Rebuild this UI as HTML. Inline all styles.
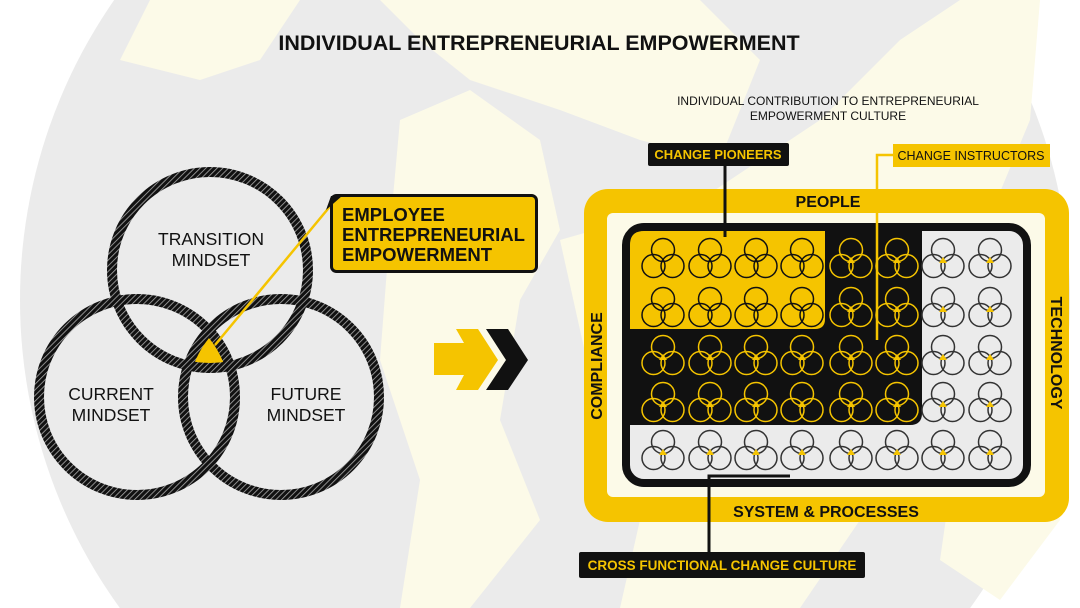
<!DOCTYPE html>
<html><head><meta charset="utf-8"><style>
html,body{margin:0;padding:0;background:#fff;width:1080px;height:608px;overflow:hidden;}
svg{display:block;font-family:"Liberation Sans",Arial,sans-serif;}
</style></head><body>
<svg width="1080" height="608" viewBox="0 0 1080 608" xmlns="http://www.w3.org/2000/svg">
<defs>
<pattern id="hatch" patternUnits="userSpaceOnUse" width="4" height="4" patternTransform="rotate(45)">
<rect width="4" height="4" fill="#111"/>
<rect x="0" y="0" width="0.8" height="4" fill="#aaa"/>
</pattern>
<g id="mv">
<circle cx="0" cy="-8" r="11.5" fill="none" stroke="currentColor" stroke-width="1.5"/>
<circle cx="-9.5" cy="8" r="11.5" fill="none" stroke="currentColor" stroke-width="1.5"/>
<circle cx="9.5" cy="8" r="11.5" fill="none" stroke="currentColor" stroke-width="1.5"/>
</g>
<g id="mvt">
<use href="#mv"/>
<polygon points="0,-1 -4,5 4,5" fill="#f5c400"/>
</g>
<clipPath id="cL"><circle cx="137" cy="397" r="98"/></clipPath>
<clipPath id="cR"><circle cx="281" cy="397" r="98"/></clipPath>
</defs>

<rect width="1080" height="608" fill="#fff"/>
<circle cx="545" cy="300" r="525" fill="#ebebeb"/>
<g fill="#fcfae8">
<polygon points="380,0 700,0 760,60 720,160 640,140 560,110 470,80 420,40"/>
<polygon points="400,120 470,90 540,140 560,230 520,300 500,420 540,520 470,608 400,608 420,480 380,360 390,230"/>
<polygon points="560,240 700,200 820,120 900,40 960,0 1040,0 1030,120 980,240 940,330 900,420 860,520 800,608 620,608 640,520 600,420 580,330"/>
<polygon points="150,0 300,0 260,60 200,80 120,60"/>
<polygon points="960,420 1040,380 1060,520 1000,600 940,560"/>
</g>

<text x="539" y="50" text-anchor="middle" font-size="21.5" font-weight="bold" fill="#111">INDIVIDUAL ENTREPRENEURIAL EMPOWERMENT</text>
<text x="828" y="105" text-anchor="middle" font-size="12" fill="#111">INDIVIDUAL CONTRIBUTION TO ENTREPRENEURIAL</text>
<text x="828" y="120" text-anchor="middle" font-size="12" fill="#111">EMPOWERMENT CULTURE</text>

<g clip-path="url(#cL)"><g clip-path="url(#cR)"><circle cx="210" cy="270" r="98" fill="#f5c400"/></g></g>
<circle cx="210" cy="270" r="98" fill="none" stroke="url(#hatch)" stroke-width="10"/>
<circle cx="137" cy="397" r="98" fill="none" stroke="url(#hatch)" stroke-width="10"/>
<circle cx="281" cy="397" r="98" fill="none" stroke="url(#hatch)" stroke-width="10"/>
<g font-size="17.5" fill="#111" text-anchor="middle">
<text x="211" y="245">TRANSITION</text><text x="211" y="266">MINDSET</text>
<text x="111" y="400">CURRENT</text><text x="111" y="421">MINDSET</text>
<text x="306" y="400">FUTURE</text><text x="306" y="421">MINDSET</text>
</g>
<line x1="332" y1="204" x2="215" y2="345" stroke="#f5c400" stroke-width="2.5"/>
<rect x="331.5" y="195.5" width="205" height="76" rx="5" fill="#f5c400" stroke="#111" stroke-width="3"/>
<polygon points="331,196 342,196 326,210" fill="#111"/>
<g font-size="18.5" font-weight="bold" fill="#111">
<text x="342" y="221">EMPLOYEE</text><text x="342" y="241">ENTREPRENEURIAL</text><text x="342" y="261">EMPOWERMENT</text>
</g>

<polygon points="434,343 464,343 456,329 478,329 498,360 478,390 456,390 464,375 434,375" fill="#f5c400"/>
<polygon points="486,329 508,329 528,360 508,390 486,390 506,360" fill="#111"/>

<rect x="584" y="189" width="485" height="333" rx="24" fill="#f5c400"/>
<rect x="607" y="213" width="438" height="284" rx="6" fill="#fcfae8"/>
<rect x="626" y="227" width="401" height="256" rx="18" fill="#ebebeb" stroke="#111" stroke-width="8"/>
<path d="M630,245 Q630,231 644,231 L922,231 L922,413 Q922,425 910,425 L630,425 Z" fill="#111"/>
<path d="M630,245 Q630,231 644,231 L825,231 L825,319 Q825,329 815,329 L630,329 Z" fill="#f5c400"/>

<g color="#111">
<use href="#mv" x="663" y="258"/><use href="#mv" x="710" y="258"/><use href="#mv" x="756" y="258"/><use href="#mv" x="802" y="258"/>
<use href="#mv" x="663" y="307"/><use href="#mv" x="710" y="307"/><use href="#mv" x="756" y="307"/><use href="#mv" x="802" y="307"/>
</g>
<g color="#f5c400">
<use href="#mvt" x="851" y="258"/><use href="#mvt" x="897" y="258"/>
<use href="#mvt" x="851" y="307"/><use href="#mvt" x="897" y="307"/>
<use href="#mvt" x="663" y="355"/><use href="#mvt" x="710" y="355"/><use href="#mvt" x="756" y="355"/><use href="#mvt" x="802" y="355"/><use href="#mvt" x="851" y="355"/><use href="#mvt" x="897" y="355"/>
<use href="#mvt" x="663" y="402"/><use href="#mvt" x="710" y="402"/><use href="#mvt" x="756" y="402"/><use href="#mvt" x="802" y="402"/><use href="#mvt" x="851" y="402"/><use href="#mvt" x="897" y="402"/>
</g>
<g color="#333">
<use href="#mvt" x="943" y="258"/><use href="#mvt" x="990" y="258"/>
<use href="#mvt" x="943" y="307"/><use href="#mvt" x="990" y="307"/>
<use href="#mvt" x="943" y="355"/><use href="#mvt" x="990" y="355"/>
<use href="#mvt" x="943" y="402"/><use href="#mvt" x="990" y="402"/>
<use href="#mvt" x="663" y="450"/><use href="#mvt" x="710" y="450"/><use href="#mvt" x="756" y="450"/><use href="#mvt" x="802" y="450"/><use href="#mvt" x="851" y="450"/><use href="#mvt" x="897" y="450"/><use href="#mvt" x="943" y="450"/><use href="#mvt" x="990" y="450"/>
</g>

<text x="828" y="207" text-anchor="middle" font-size="16" font-weight="bold" fill="#111">PEOPLE</text>
<text x="826" y="517" text-anchor="middle" font-size="16" font-weight="bold" fill="#111">SYSTEM &amp; PROCESSES</text>
<text transform="translate(602,366) rotate(-90)" text-anchor="middle" font-size="16" font-weight="bold" fill="#111">COMPLIANCE</text>
<text transform="translate(1051,353) rotate(90)" text-anchor="middle" font-size="16" font-weight="bold" fill="#111">TECHNOLOGY</text>

<line x1="725" y1="160" x2="725" y2="237" stroke="#111" stroke-width="3"/>
<rect x="648" y="143" width="141" height="23" rx="2" fill="#111"/>
<text x="718" y="159" text-anchor="middle" font-size="13" font-weight="bold" fill="#f5c400">CHANGE PIONEERS</text>

<polyline points="895,155 877,155 877,340" fill="none" stroke="#f5c400" stroke-width="2.5"/>
<rect x="893" y="144" width="157" height="23" fill="#f5c400"/>
<text x="971" y="160" text-anchor="middle" font-size="12.5" fill="#111">CHANGE INSTRUCTORS</text>

<polyline points="790,476 709,476 709,555" fill="none" stroke="#111" stroke-width="3"/>
<rect x="579" y="552" width="286" height="26" rx="2" fill="#111"/>
<text x="722" y="570" text-anchor="middle" font-size="13.5" font-weight="bold" fill="#f5c400">CROSS FUNCTIONAL CHANGE CULTURE</text>
</svg>
</body></html>
